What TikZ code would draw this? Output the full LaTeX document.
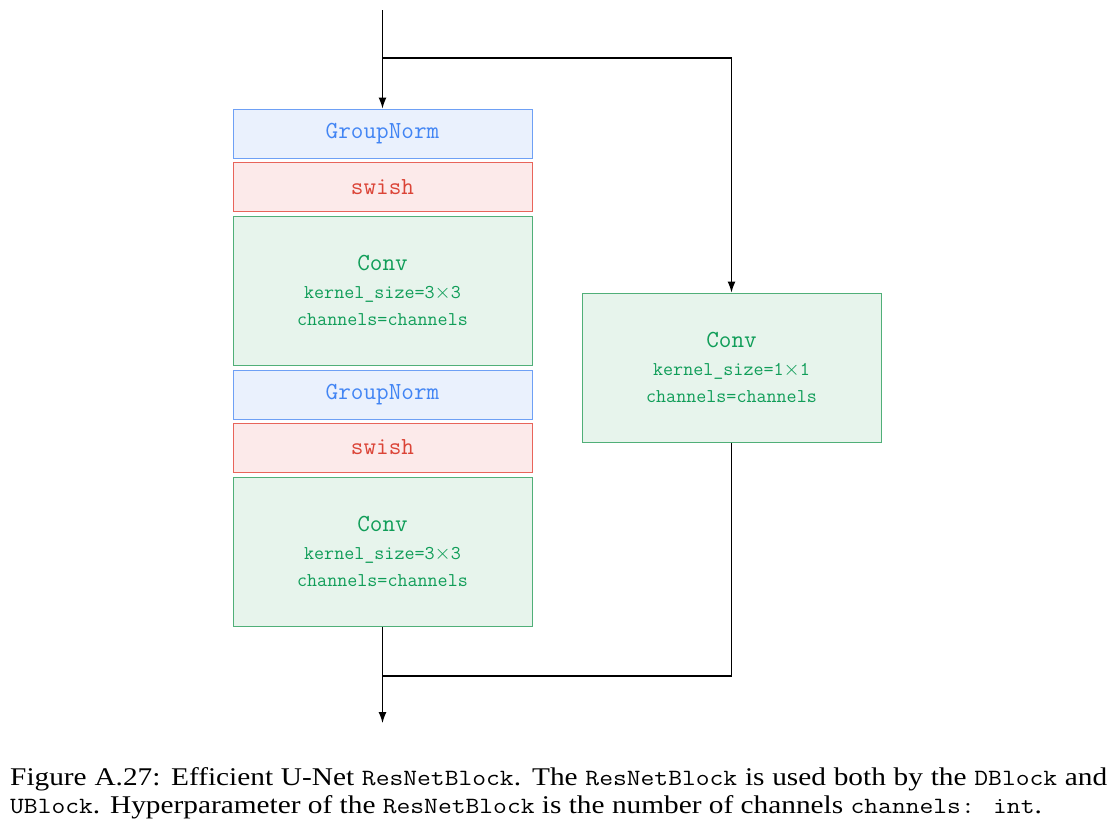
\documentclass[tikz,border=0pt]{standalone}
\usepackage{fontspec}
\setmainfont{Liberation Serif}
\usetikzlibrary{arrows.meta}
\definecolor{bluefill}{RGB}{234,241,253}
\definecolor{blueline}{RGB}{110,160,245}
\definecolor{bluetext}{RGB}{66,133,244}
\definecolor{redfill}{RGB}{252,234,234}
\definecolor{redline}{RGB}{232,100,90}
\definecolor{redtext}{RGB}{219,68,55}
\definecolor{greenfill}{RGB}{231,244,236}
\definecolor{greenline}{RGB}{80,175,120}
\definecolor{greentext}{RGB}{15,157,88}
\newcommand{\mainfs}{\fontsize{24.5}{30}\selectfont\ttfamily}
\newcommand{\smallfs}{\fontsize{19.5}{27.5}\selectfont\ttfamily}
\newcommand{\captt}[1]{{\fontsize{23.3}{28}\selectfont\ttfamily #1}}
\begin{document}
\begin{tikzpicture}[x=1pt,y=-1pt,
  box/.style={draw,line width=1pt,minimum width=299pt,inner sep=0pt,align=center},
  thinbox/.style={box,minimum height=49pt,font=\mainfs},
  bluebox/.style={thinbox,fill=bluefill,draw=blueline,text=bluetext},
  redbox/.style={thinbox,fill=redfill,draw=redline,text=redtext},
  greenbox/.style={box,minimum height=149pt,fill=greenfill,draw=greenline,text=greentext,font=\smallfs},
  conn/.style={line width=1.1pt,draw=black},
  arr/.style={conn,-{Latex[length=11pt,width=8pt]}}]
\useasboundingbox (0,0) rectangle (1111,828);
\node[bluebox] (gn1) at (382.5,133.5) {GroupNorm};
\node[redbox] (sw1) at (382.5,187) {swish};
\node[greenbox] (conv1) at (382.5,290.5) {{\mainfs Conv}\\kernel\_size=3$\times$3\\channels=channels};
\node[bluebox] (gn2) at (382.5,394.5) {GroupNorm};
\node[redbox] (sw2) at (382.5,447.5) {swish};
\node[greenbox] (conv2) at (382.5,551.5) {{\mainfs Conv}\\kernel\_size=3$\times$3\\channels=channels};
\node[greenbox] (conv3) at (731.5,367.5) {{\mainfs Conv}\\kernel\_size=1$\times$1\\channels=channels};
\coordinate (top) at (382.5,10);
\coordinate (split) at (382.5,58);
\coordinate (merge) at (382.5,676);
\coordinate (out) at (382.5,723);
\draw[arr] (top) -- (gn1.north);
\draw[arr] (split) -| (conv3.north);
\draw[conn] (conv3.south) |- (merge);
\draw[arr] (conv2.south) -- (out);
\node[anchor=base west,inner sep=0pt] (caption) at (10,785) {\scalebox{1.15}[1]{\parbox[t]{954pt}{\fontsize{25.5}{28}\selectfont\sloppy Figure A.27: Efficient U-Net \captt{ResNetBlock}. The \captt{ResNetBlock} is used both by the \captt{DBlock} and\linebreak \captt{UBlock}. Hyperparameter of the \captt{ResNetBlock} is the number of channels \captt{channels: int}.}}};
\end{tikzpicture}
\end{document}
